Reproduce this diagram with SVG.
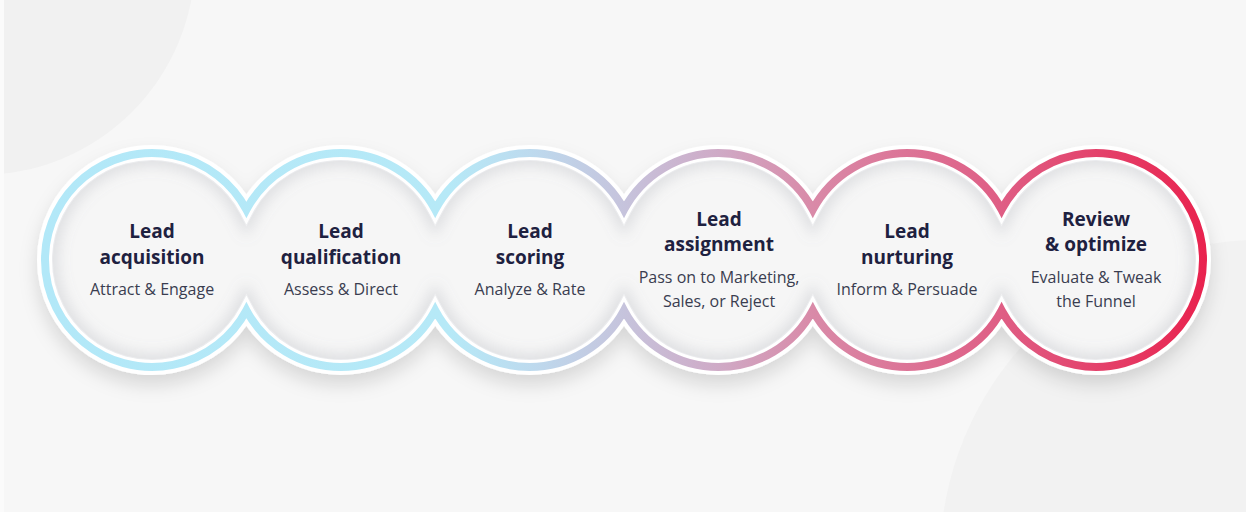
<svg xmlns="http://www.w3.org/2000/svg" width="1246" height="512" viewBox="0 0 1246 512">
<style>
.t{font-family:"Open Sans","Liberation Sans",sans-serif;font-weight:700;font-size:19px;fill:#1e2140;text-anchor:middle}
.s{font-family:"Open Sans","Liberation Sans",sans-serif;font-weight:400;font-size:16px;fill:#3a3d50;text-anchor:middle}
</style>
<defs>
<linearGradient id="ring" gradientUnits="userSpaceOnUse" x1="40" y1="0" x2="1210" y2="0">
<stop offset="0" stop-color="#b2e8f8"/>
<stop offset="0.35" stop-color="#b6e9f7"/>
<stop offset="0.42" stop-color="#bddaee"/>
<stop offset="0.5" stop-color="#c6c3dc"/>
<stop offset="0.58" stop-color="#cfaac6"/>
<stop offset="0.66" stop-color="#d98aa8"/>
<stop offset="0.82" stop-color="#df5e85"/>
<stop offset="1" stop-color="#e9214d"/>
</linearGradient>
<path id="chain" d="M246.4 209.63 A107 107 0 1 0 246.4 310.37 A107 107 0 0 0 435.2 310.37 A107 107 0 0 0 624 310.37 A107 107 0 0 0 812.8 310.37 A107 107 0 0 0 1001.6 310.37 A107 107 0 1 0 1001.6 209.63 A107 107 0 0 0 812.8 209.63 A107 107 0 0 0 624 209.63 A107 107 0 0 0 435.2 209.63 A107 107 0 0 0 246.4 209.63 Z"/>
<clipPath id="inside"><use href="#chain"/></clipPath>
<filter id="drop" x="-10%" y="-30%" width="120%" height="170%">
<feDropShadow dx="0" dy="10" stdDeviation="9" flood-color="#000" flood-opacity="0.13"/>
</filter>
<filter id="blur" x="-10%" y="-30%" width="120%" height="160%">
<feGaussianBlur stdDeviation="7"/>
</filter>
</defs>
<rect width="1246" height="512" fill="#f7f7f7"/>
<circle cx="-20" cy="-40" r="215" fill="#f1f1f1"/>
<circle cx="1260" cy="560" r="320" fill="#f2f2f2"/>
<rect x="0" y="0" width="4" height="512" fill="#fbfbfb"/>
<g id="connectors">
<use href="#chain" fill="#f6f6f6" stroke="#ffffff" stroke-width="16" filter="url(#drop)"/>
<g clip-path="url(#inside)">
<use href="#chain" fill="none" stroke="#8a8f99" stroke-opacity="0.22" stroke-width="26" filter="url(#blur)"/>
</g>
<use href="#chain" fill="none" stroke="#ffffff" stroke-width="14"/>
<use href="#chain" fill="none" stroke="url(#ring)" stroke-width="8"/>
</g>
<g id="node-acquisition">
<text class="t" x="152" y="238">Lead</text>
<text class="t" x="152" y="264">acquisition</text>
<text class="s" x="152" y="295">Attract &amp; Engage</text>
</g>
<g id="node-qualification">
<text class="t" x="341" y="238">Lead</text>
<text class="t" x="341" y="264">qualification</text>
<text class="s" x="341" y="295">Assess &amp; Direct</text>
</g>
<g id="node-scoring">
<text class="t" x="530" y="238">Lead</text>
<text class="t" x="530" y="264">scoring</text>
<text class="s" x="530" y="295">Analyze &amp; Rate</text>
</g>
<g id="node-assignment">
<text class="t" x="719" y="226">Lead</text>
<text class="t" x="719" y="251">assignment</text>
<text class="s" x="719" y="283">Pass on to Marketing,</text>
<text class="s" x="719" y="307">Sales, or Reject</text>
</g>
<g id="node-nurturing">
<text class="t" x="907" y="238">Lead</text>
<text class="t" x="907" y="264">nurturing</text>
<text class="s" x="907" y="295">Inform &amp; Persuade</text>
</g>
<g id="node-review">
<text class="t" x="1096" y="226">Review</text>
<text class="t" x="1096" y="251">&amp; optimize</text>
<text class="s" x="1096" y="283">Evaluate &amp; Tweak</text>
<text class="s" x="1096" y="307">the Funnel</text>
</g>
</svg>
